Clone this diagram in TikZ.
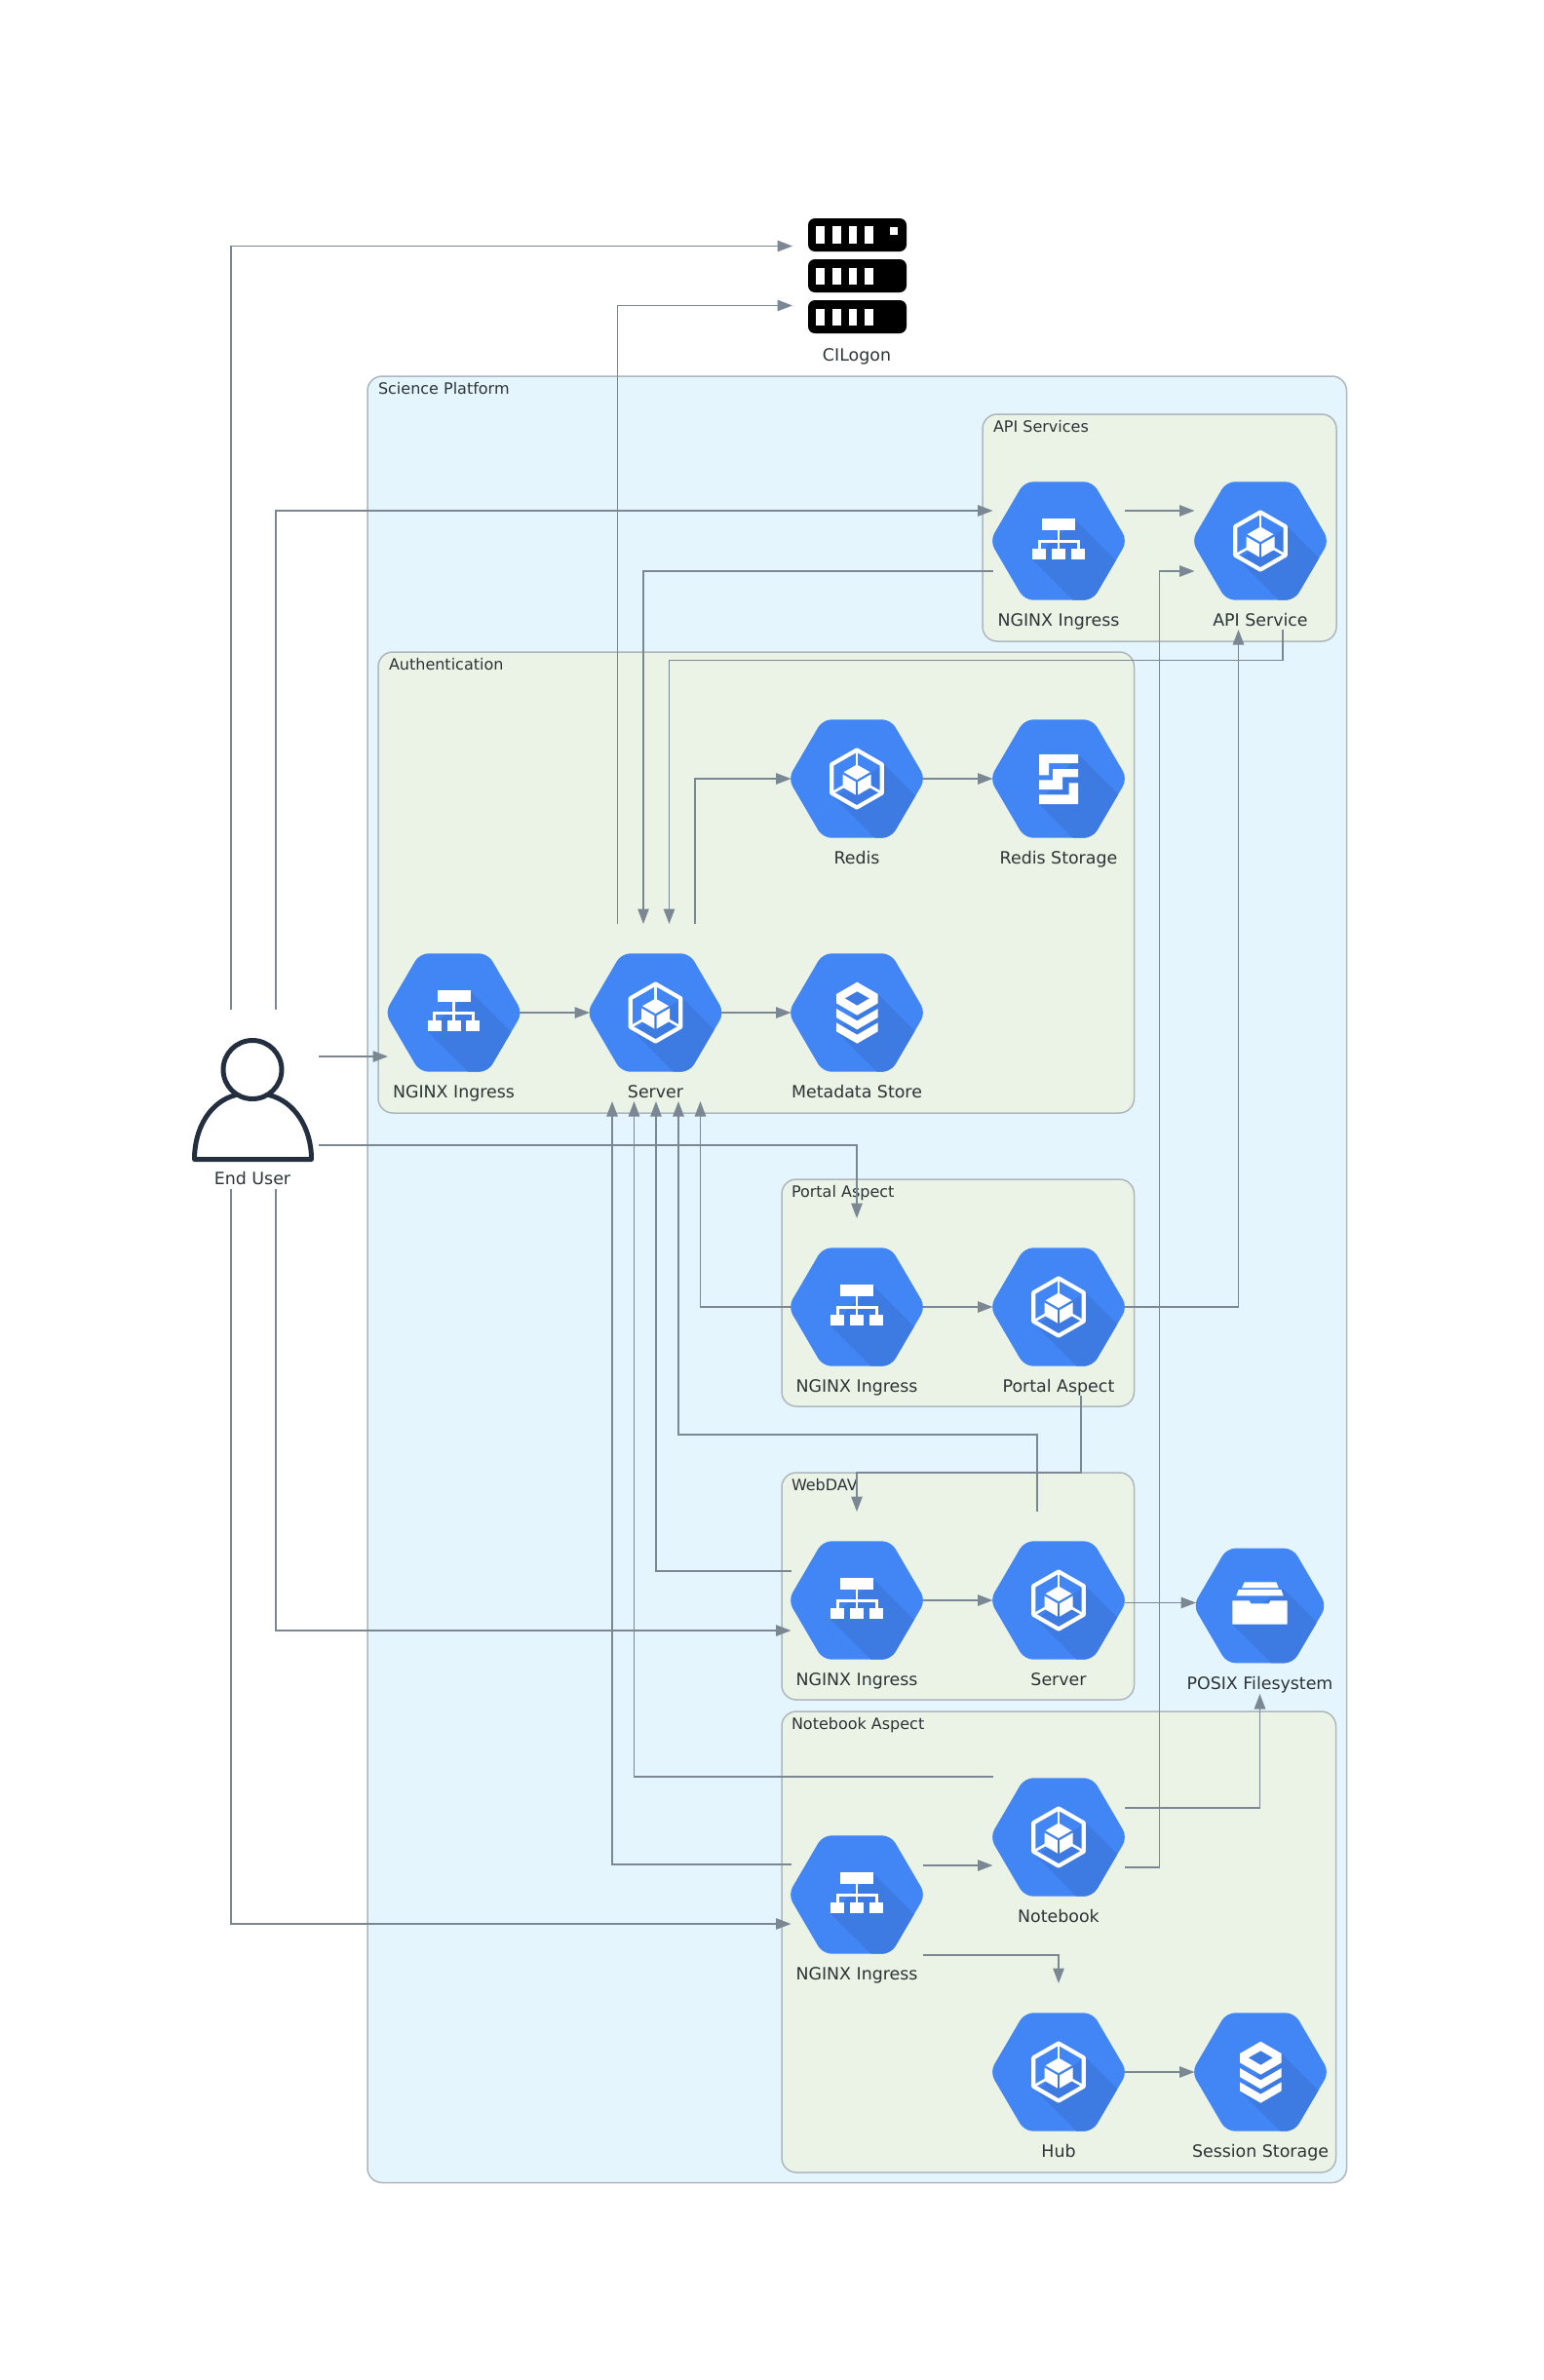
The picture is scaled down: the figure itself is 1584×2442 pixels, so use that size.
\documentclass[tikz,border=0pt]{standalone}
\usepackage{fontspec}
\setmainfont{DejaVu Sans}
\usetikzlibrary{arrows.meta,calc}
\definecolor{hexblue}{HTML}{4285F4}
\definecolor{hexshade}{HTML}{3D7BE3}
\definecolor{edgegray}{HTML}{7B8894}
\definecolor{borderg}{HTML}{AEB6BE}
\definecolor{txtc}{HTML}{2D3436}
\definecolor{skyfill}{HTML}{E5F5FD}
\definecolor{greenfill}{HTML}{EBF3E7}
\definecolor{persona}{HTML}{232F3E}
\tikzset{
  hexbox/.style={minimum width=135pt,minimum height=182pt,inner sep=0pt,outer sep=0pt},
  lbl/.style={anchor=base,inner sep=0pt,outer sep=0pt,text=txtc,font=\fontsize{17.4}{20}\selectfont},
  clustertitle/.style={anchor=base west,inner sep=0pt,outer sep=0pt,text=txtc,font=\fontsize{16}{19}\selectfont},
  cluster/.style={anchor=north west,draw=borderg,line width=1.5pt,rounded corners=15pt,inner sep=0pt,outer sep=0pt},
  conn/.style={draw=edgegray,line width=1.3pt,-{Triangle[length=15.5pt,width=11.5pt,fill=edgegray]}},
  wh/.style={fill=white,draw=none},
}
\newcommand{\hexpath}{(-70.5,0) -- (-35,-60.7) -- (35,-60.7) -- (70.5,0) -- (35,60.7) -- (-35,60.7) -- cycle}
% shadow from (x1,y1) and (x2,y2), running down right
\newcommand{\hexbase}[4]{%
  \fill[hexblue,rounded corners=9pt] \hexpath;
  \begin{scope}
    \clip[rounded corners=9pt] \hexpath;
    \fill[hexshade] (#1,#2) -- ++(120,120) -- ($(#3,#4)+(120,120)$) -- (#3,#4) -- cycle;
  \end{scope}}
\newcommand{\iconNginx}{%
  \hexbase{16.7}{-22}{-26.7}{19.3}%
  \fill[wh] (-17,-23) rectangle (17,-11);
  \fill[wh] (-1.4,-11) rectangle (1.4,9);
  \fill[wh] (-21.5,-0.7) rectangle (21.5,2.3);
  \fill[wh] (-21.5,-0.7) rectangle (-18.5,9);
  \fill[wh] (18.5,-0.7) rectangle (21.5,9);
  \fill[wh] (-26.7,8.3) rectangle (-12.7,19.3);
  \fill[wh] (-7,8.3) rectangle (7,19.3);
  \fill[wh] (12.5,8.3) rectangle (26.5,19.3);}
\newcommand{\iconCube}{%
  \hexbase{27.7}{-15}{-23}{19}%
  \draw[white,line width=4.2pt,line join=round] (0,-29.5) -- (25.8,-14.7) -- (25.8,14.7) -- (0,29.5) -- (-25.8,14.7) -- (-25.8,-14.7) -- cycle;
  \draw[white,line width=2.6pt] (0,-29.5) -- (0,-13);
  \draw[white,line width=2.6pt] (-25.8,14.7) -- (-13,7.5);
  \draw[white,line width=2.6pt] (25.8,14.7) -- (13,7.5);
  \fill[wh] (0,-14.5) -- (13.5,-6.8) -- (0,1) -- (-13.5,-6.8) -- cycle;
  \fill[wh] (-14.5,-4.5) -- (-1.2,3.2) -- (-1.2,16.5) -- (-14.5,8.8) -- cycle;
  \fill[wh] (14.5,-4.5) -- (1.2,3.2) -- (1.2,16.5) -- (14.5,8.8) -- cycle;}
\newcommand{\iconRedisStore}{%
  \hexbase{20}{-25}{-20}{26}%
  \begin{scope}[x=0.33333pt,y=-0.33333pt,shift={(-258,-237)}]
    \fill[wh] (198,162) -- (318,162) -- (318,189) -- (228,189) -- (228,226) -- (198,226) -- cycle;
    \fill[wh] (198,241) -- (240,241) -- (240,207) -- (318,207) -- (318,232) -- (270,232) -- (270,270) -- (198,270) -- cycle;
    \fill[wh] (198,315) -- (318,315) -- (318,250) -- (290,250) -- (290,286) -- (198,286) -- cycle;
  \end{scope}}
\newcommand{\iconStack}{%
  \hexbase{21.7}{-19}{-21}{19}%
  \begin{scope}[x=0.33333pt,y=-0.33333pt,shift={(-237,-207)}]
    \fill[wh] (238,113) -- (302,150) -- (302,178) -- (238,215) -- (174,178) -- (174,150) -- cycle;
    \fill[hexshade] (238,142) -- (275,163) -- (238,185) -- (201,163) -- cycle;
    \fill[wh] (174,195) -- (238,232) -- (302,195) -- (302,222) -- (238,259) -- (174,222) -- cycle;
    \fill[wh] (174,238) -- (238,275) -- (302,238) -- (302,265) -- (238,302) -- (174,265) -- cycle;
  \end{scope}}
\newcommand{\iconDrawer}{%
  \begin{scope}[scale=0.97]\hexbase{24.7}{-18}{-29}{19.5}\end{scope}%
  \begin{scope}[x=0.33333pt,y=-0.33333pt,shift={(-277.5,-232.5)}]
    \fill[wh] (230,160) -- (328,160) -- (335,178) -- (222,178) -- cycle;
    \fill[wh] (212,183) -- (343,183) -- (350,202) -- (205,202) -- cycle;
    \fill[wh] (193,217) -- (245,217) -- (250,226) -- (305,226) -- (310,217) -- (362,217) -- (362,290) -- (193,290) -- cycle;
  \end{scope}}
% name, x, y, icon, label
\newcommand{\svc}[5]{%
  \node[hexbox] (#1) at (#2,#3) {};
  \begin{scope}[shift={(#2,#3)}]#4\end{scope}
  \node[lbl] (#1t) at (#2,#3+87.2) {#5};}
\begin{document}
\begin{tikzpicture}[x=1pt,y=-1pt]
\useasboundingbox (0,0) rectangle (1584,2442);
% clusters
\node[cluster,fill=skyfill,minimum width=1004.5pt,minimum height=1853.5pt] (csp) at (377,386) {};
\node[clustertitle] (cspt) at (388,404) {Science Platform};
\node[cluster,fill=greenfill,minimum width=363pt,minimum height=233pt] (capi) at (1008,425) {};
\node[clustertitle] (capit) at (1019,443) {API Services};
\node[cluster,fill=greenfill,minimum width=775.5pt,minimum height=473pt] (cauth) at (388,669) {};
\node[clustertitle] (cautht) at (399,687) {Authentication};
\node[cluster,fill=greenfill,minimum width=361.5pt,minimum height=233pt] (cportal) at (802,1210) {};
\node[clustertitle] (cportalt) at (812,1228) {Portal Aspect};
\node[cluster,fill=greenfill,minimum width=361.5pt,minimum height=233pt] (cweb) at (802,1511) {};
\node[clustertitle] (cwebt) at (812,1529) {WebDAV};
\node[cluster,fill=greenfill,minimum width=568.5pt,minimum height=473pt] (cnb) at (802,1756) {};
\node[clustertitle] (cnbt) at (812,1774) {Notebook Aspect};
% services
\svc{an}{1086}{555}{\iconNginx}{NGINX Ingress}
\svc{as}{1293}{555}{\iconCube}{API Service}
\svc{redis}{879}{799}{\iconCube}{Redis}
\svc{rs}{1086}{799}{\iconRedisStore}{Redis Storage}
\svc{ln}{465.5}{1039}{\iconNginx}{NGINX Ingress}
\svc{srv}{672.5}{1039}{\iconCube}{Server}
\svc{ms}{879}{1039}{\iconStack}{Metadata Store}
\svc{pn}{879}{1341}{\iconNginx}{NGINX Ingress}
\svc{pa}{1086}{1341}{\iconCube}{Portal Aspect}
\svc{wn}{879}{1642}{\iconNginx}{NGINX Ingress}
\svc{ws}{1086}{1642}{\iconCube}{Server}
\svc{nb}{1086}{1885}{\iconCube}{Notebook}
\svc{nn}{879}{1944}{\iconNginx}{NGINX Ingress}
\svc{hub}{1086}{2126}{\iconCube}{Hub}
\svc{ss}{1293}{2126}{\iconStack}{Session Storage}
% POSIX
\node[hexbox,minimum width=131pt,minimum height=181pt] (px) at (1292.5,1647.5) {};
\begin{scope}[shift={(1292.5,1647.5)}]\iconDrawer\end{scope}
\node[lbl] (pxt) at (1292.5,1733) {POSIX Filesystem};
% CILogon
\node[hexbox,minimum width=132pt] (cil) at (879,283) {};
\foreach \yy in {224,266,308}{\fill[black,rounded corners=7pt] (829,\yy) rectangle (930,\yy+34);}
\foreach \xx in {837.3,854,870.7,887.3}{
  \fill[wh] (\xx,232.3) rectangle (\xx+8.6,249.7);
  \fill[wh] (\xx,274.7) rectangle (\xx+8.6,291.7);
  \fill[wh] (\xx,317) rectangle (\xx+8.6,333.7);}
\fill[wh] (913,232.7) rectangle (921.3,241);
\node[lbl] (cilt) at (879,370) {CILogon};
% End user
\node[hexbox,minimum width=136pt,minimum height=184pt] (user) at (259,1128) {};
\draw[persona,line width=5pt,line join=round,line cap=round] (242,1123.5) .. controls (216,1130) and (199.5,1157) .. (199.5,1189.5) -- (319.5,1189.5) .. controls (319.5,1157) and (302,1130) .. (276,1123.5);
\draw[persona,line width=5pt] (259,1097.5) circle[radius=30pt];
\node[lbl] (usert) at (259,1215) {End User};
% connectors
\draw[conn] ($(user.north)+(-22,0)$) |- ($(cil.west)+(0,-30.5)$);
\draw[conn] ($(user.north)+(24,0)$) |- ($(an.west)+(0,-31)$);
\draw[conn] ($(an.east)+(0,-31)$) -- ($(as.west)+(0,-31)$);
\draw[conn] ($(srv.north)+(-39,0)$) |- ($(cil.west)+(0,30.5)$);
\draw[conn] ($(an.west)+(0,31)$) -| ($(srv.north)+(-12.5,0)$);
\draw[conn] ($(as.south)+(23,0)$) -- ++(0,31.5) -| ($(srv.north)+(14,0)$);
\draw[conn] ($(srv.north)+(40.5,0)$) |- (redis.west);
\draw[conn] (redis.east) -- (rs.west);
\draw[conn] ($(user.east)+(0,-44)$) -- ($(ln.west)+(0,45)$);
\draw[conn] (ln.east) -- (srv.west);
\draw[conn] (srv.east) -- (ms.west);
\draw[conn] ($(user.east)+(0,47)$) -| (pn.north);
\draw[conn] (pn.west) -| ($(srv.south)+(46,0)$);
\draw[conn] (pn.east) -- (pa.west);
\draw[conn] (pa.east) -| ($(as.south)+(-22.5,0)$);
\draw[conn] ($(pa.south)+(23,0)$) -- ++(0,79) -| (wn.north);
\draw[conn] ($(ws.north)+(-22,0)$) -- ++(0,-79) -| ($(srv.south)+(23.5,0)$);
\draw[conn] ($(wn.west)+(0,-30)$) -| ($(srv.south)+(0.5,0)$);
\draw[conn] (wn.east) -- (ws.west);
\draw[conn] ($(ws.east)+(0,2.5)$) -- ($(px.west)+(0,-3)$);
\draw[conn] ($(user.south)+(24,0)$) |- ($(wn.west)+(0,31)$);
\draw[conn] ($(user.south)+(-22,0)$) |- ($(nn.west)+(0,30)$);
\draw[conn] ($(nn.west)+(0,-31)$) -| ($(srv.south)+(-44.5,0)$);
\draw[conn] ($(nb.west)+(0,-62)$) -| ($(srv.south)+(-22,0)$);
\draw[conn] ($(nn.east)+(0,-30)$) -- ($(nb.west)+(0,29)$);
\draw[conn] ($(nb.east)+(0,-30)$) -| (px.south);
\draw[conn] ($(nb.east)+(0,31)$) -- ++(36,0) |- ($(as.west)+(0,31)$);
\draw[conn] ($(nn.east)+(0,62)$) -| (hub.north);
\draw[conn] (hub.east) -- (ss.west);
\end{tikzpicture}
\end{document}
